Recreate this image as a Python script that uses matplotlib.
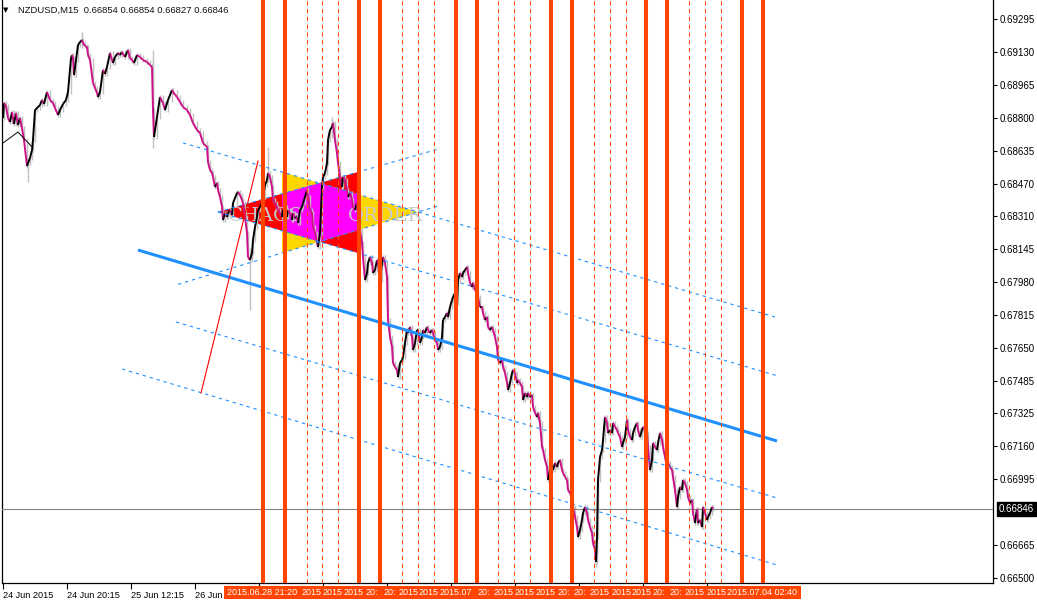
import numpy as np
import matplotlib
matplotlib.use("Agg")
import matplotlib.pyplot as plt
from matplotlib.collections import LineCollection
from matplotlib.patches import Polygon, Rectangle

plt.rcParams['font.family'] = ['Liberation Sans', 'DejaVu Sans']

# NZDUSD M15, one bar per pixel column; bar number and close
bars = [3, 4, 6, 8, 10, 12, 14, 16, 18, 20, 22, 24, 27, 28, 30, 32, 33, 35, 37, 40,
        42, 44, 47, 50, 53, 55, 58, 60, 63, 66, 68, 71, 72, 73, 74, 76, 78, 80, 82, 83,
        85, 87, 88, 90, 93, 95, 97, 98, 100, 103, 105, 107, 110, 113, 115, 118, 120, 122, 125, 128,
        130, 132, 134, 137, 140, 143, 147, 150, 152, 153, 154, 157, 160, 163, 165, 168, 172, 173, 177, 180,
        183, 187, 190, 193, 197, 200,
        203, 207, 208, 210, 212, 213, 215, 217, 218, 220, 222, 223, 225, 227, 228, 230, 232, 233, 237, 238,
        240, 242, 243, 245, 247, 248, 250, 252, 253, 255, 257, 258, 260, 262, 263, 265, 267, 268, 270, 272,
        273, 275, 277, 278, 280, 282, 283, 285, 287, 288, 290, 292, 293, 295, 297, 298, 300, 302, 303, 305,
        307, 308, 310, 312, 313, 315, 317, 318, 320, 322, 323, 325, 327, 328, 330, 332, 333, 335, 337, 338,
        340, 342, 343, 345, 347, 348, 350, 352, 353, 355, 357, 358, 360, 362, 363, 365, 367, 368, 370, 372,
        373, 375, 377, 378, 380, 382, 383, 385, 387, 388,
        390, 392, 393, 395, 397, 398, 400, 402, 403, 405, 407, 408, 410, 412, 413, 415, 417, 418, 420, 422,
        423, 425, 427, 428, 430, 432, 433, 435, 437, 438, 440, 442, 443, 445, 447, 448, 450, 452, 453, 455,
        457, 458, 460, 462, 463, 465, 467, 468, 470, 472, 473, 475, 477, 478, 480, 482, 483, 485, 487, 488,
        490, 492, 493, 495, 497, 498, 500, 502, 503, 505, 507, 508, 510, 512, 513, 515, 517, 518, 520, 522,
        523, 525, 527, 528, 530, 532, 533, 535, 537, 538, 540,
        542, 543, 545, 547, 548, 550, 552, 553, 555, 557, 558, 560, 562, 563, 565, 567, 568, 570, 572, 573,
        575, 577, 578, 580, 582, 583, 585, 587, 588, 590, 592, 593, 595, 596, 597, 598, 600, 602, 603, 605,
        607, 608, 610, 612, 613, 615, 617, 618, 620, 622, 623, 625, 627, 628, 630, 632, 633, 635, 637, 638,
        640, 642, 643, 645, 647, 648, 650, 652, 653, 655, 657, 658, 660, 662, 663, 665, 667, 668, 670, 672,
        673, 675, 677, 678, 680, 682, 683, 685, 687, 688, 690, 692, 693, 695, 697, 698, 700, 702, 703, 705,
        707, 708, 710, 712, 713]
close = [0.68800, 0.68875, 0.68860, 0.68800, 0.68780, 0.68830, 0.68770, 0.68825, 0.68765, 0.68800,
         0.68750, 0.68690, 0.68560, 0.68575, 0.68600, 0.68640, 0.68690, 0.68840, 0.68850, 0.68865,
         0.68890, 0.68870, 0.68930, 0.68890, 0.68875, 0.68850, 0.68815, 0.68840, 0.68870, 0.68890,
         0.68930, 0.69100, 0.69115, 0.69100, 0.69015, 0.69090, 0.69165, 0.69180, 0.69190, 0.69175,
         0.69160, 0.69155, 0.69115, 0.69090, 0.68975, 0.68950, 0.68925, 0.68905, 0.68930, 0.69040,
         0.69020, 0.69055, 0.69125, 0.69075, 0.69105, 0.69125, 0.69115, 0.69130, 0.69105, 0.69140,
         0.69100, 0.69090, 0.69075, 0.69115, 0.69105, 0.69090, 0.69080, 0.69065, 0.69055, 0.68840,
         0.68705, 0.68805, 0.68905, 0.68875, 0.68840, 0.68890, 0.68940, 0.68930, 0.68905, 0.68880,
         0.68855, 0.68840, 0.68815, 0.68775, 0.68740, 0.68725,
         0.68675, 0.68655, 0.68580, 0.68540, 0.68525, 0.68505, 0.68455, 0.68475, 0.68440, 0.68405,
         0.68355, 0.68290, 0.68325, 0.68305, 0.68325, 0.68340, 0.68315, 0.68375, 0.68425, 0.68430,
         0.68415, 0.68390, 0.68375, 0.68305, 0.68225, 0.68105, 0.68090, 0.68125, 0.68190, 0.68255,
         0.68305, 0.68340, 0.68355, 0.68375, 0.68405, 0.68465, 0.68490, 0.68525, 0.68505, 0.68455,
         0.68390, 0.68375, 0.68355, 0.68340, 0.68325, 0.68305, 0.68340, 0.68355, 0.68305, 0.68340,
         0.68325, 0.68290, 0.68325, 0.68300, 0.68305, 0.68275, 0.68340, 0.68355, 0.68375, 0.68405,
         0.68440, 0.68405, 0.68340, 0.68325, 0.68255, 0.68225, 0.68175, 0.68155, 0.68225, 0.68455,
         0.68505, 0.68525, 0.68575, 0.68690, 0.68740, 0.68755, 0.68775, 0.68690, 0.68625, 0.68575,
         0.68505, 0.68455, 0.68505, 0.68490, 0.68440, 0.68405, 0.68425, 0.68390, 0.68355, 0.68340,
         0.68375, 0.68325, 0.68240, 0.68175, 0.68105, 0.67990, 0.68025, 0.68075, 0.68105, 0.68075,
         0.68025, 0.68040, 0.68090, 0.68075, 0.67990, 0.68075, 0.68105, 0.68075, 0.68005, 0.67790,
         0.67705, 0.67655, 0.67575, 0.67555, 0.67540, 0.67505, 0.67575, 0.67590, 0.67605, 0.67675,
         0.67740, 0.67725, 0.67755, 0.67705, 0.67640, 0.67675, 0.67740, 0.67740, 0.67675, 0.67705,
         0.67740, 0.67725, 0.67755, 0.67740, 0.67725, 0.67740, 0.67725, 0.67690, 0.67675, 0.67640,
         0.67655, 0.67705, 0.67790, 0.67805, 0.67825, 0.67805, 0.67855, 0.67890, 0.67905, 0.67925,
         0.67875, 0.67990, 0.68025, 0.68005, 0.68025, 0.68040, 0.68055, 0.68025, 0.67975, 0.67955,
         0.67975, 0.67940, 0.67925, 0.67905, 0.67855, 0.67855, 0.67825, 0.67790, 0.67805, 0.67755,
         0.67740, 0.67755, 0.67740, 0.67705, 0.67655, 0.67590, 0.67575, 0.67590, 0.67555, 0.67525,
         0.67475, 0.67440, 0.67475, 0.67525, 0.67540, 0.67525, 0.67475, 0.67490, 0.67475, 0.67455,
         0.67390, 0.67425, 0.67405, 0.67425, 0.67405, 0.67415, 0.67355, 0.67325, 0.67305, 0.67325,
         0.67275,
         0.67155, 0.67140, 0.67090, 0.67055, 0.66990, 0.67040, 0.67055, 0.67040, 0.67075, 0.67055,
         0.67075, 0.67090, 0.67040, 0.67025, 0.67005, 0.66990, 0.66940, 0.66925, 0.66890, 0.66855,
         0.66805, 0.66755, 0.66705, 0.66740, 0.66790, 0.66825, 0.66855, 0.66825, 0.66790, 0.66755,
         0.66725, 0.66675, 0.66640, 0.66580, 0.66705, 0.66990, 0.67105, 0.67140, 0.67190, 0.67305,
         0.67275, 0.67225, 0.67240, 0.67225, 0.67275, 0.67255, 0.67240, 0.67225, 0.67205, 0.67155,
         0.67175, 0.67205, 0.67290, 0.67240, 0.67205, 0.67190, 0.67225, 0.67255, 0.67275, 0.67240,
         0.67205, 0.67240, 0.67255, 0.67240, 0.67225, 0.67155, 0.67040, 0.67090, 0.67175, 0.67155,
         0.67140, 0.67175, 0.67225, 0.67190, 0.67155, 0.67105, 0.67055, 0.67075, 0.67055, 0.67040,
         0.67005, 0.66940, 0.66855, 0.66905, 0.66955, 0.66940, 0.66990, 0.66975, 0.66940, 0.66905,
         0.66875, 0.66890, 0.66825, 0.66775, 0.66845, 0.66775, 0.66790, 0.66755, 0.66855, 0.66825,
         0.66790, 0.66805, 0.66825, 0.66855, 0.66846]

# long wicks standing out of the close line
wick_bar = [28, 82, 153, 250, 268, 332, 596]
wick_low = [0.68480, 0.69150, 0.68650, 0.67840, 0.68480, 0.68700, 0.66555]
wick_high = [0.68600, 0.69230, 0.69140, 0.68150, 0.68655, 0.68805, 0.66700]

last_price = 0.66846
header = "NZDUSD,M15  0.66854 0.66854 0.66827 0.66846"

# price scale labels
price_ticks = [0.69295, 0.69130, 0.68965, 0.68800, 0.68635, 0.68470, 0.68310, 0.68145, 0.67980,
               0.67815, 0.67650, 0.67485, 0.67325, 0.67160, 0.66995, 0.66665, 0.66500]
# time scale (later labels are hidden under the object labels)
time_ticks = [3, 67, 131, 195, 259, 323, 387, 451, 515, 579, 643, 707]
time_labels = ["24 Jun 2015", "24 Jun 20:15", "25 Jun 12:15", "26 Jun"] + [""] * 8

# vertical lines (bar numbers)
vline_solid = [263, 285, 359, 380, 456, 477, 551, 572, 646, 667, 742, 763]
vline_dashed = [307, 322, 338, 402, 418, 434, 498, 514, 530, 594, 610, 626, 689, 705, 721]
# their labels as they show on the time scale (each one cut by the next)
vline_label_x = [227, 302, 323, 344, 366, 384, 399, 419, 440, 478, 494, 515, 536, 558, 574,
                 590, 612, 632, 653, 670, 685, 707, 727]
vline_label = ["2015.06.28 21:20", "2015", "2015", "2015", "20:", "20:", "2015", "2015", "2015.07",
               "20:", "2015", "2015", "2015", "20:", "20:", "2015", "2015", "2015", "20:", "20:",
               "2015", "2015", "2015.07.04 02:40"]

# regression channel: thick middle line and parallel bands (bar, price)
mid_line = [(138, 0.68140), (777, 0.67185)]
band_lines = [[(176, 0.67780), (777, 0.66900)],
              [(122, 0.67545), (777, 0.66565)]]

# chaos / order triangles (bar, price)
tri_order = [(282, 0.68530), (282, 0.68125), (418, 0.68330)]
tri_chaos = [(218, 0.68330), (358, 0.68530), (358, 0.68125)]
# extensions of the triangle edges: (edge start, edge end, extend from, extend to)
edge_ext = [(tri_order[0], tri_order[2], 183, 775),
            (tri_order[1], tri_order[2], 178, 440),
            (tri_chaos[0], tri_chaos[1], 218, 440),
            (tri_chaos[0], tri_chaos[2], 218, 777)]

red_line = [(201, 0.67425), (258, 0.68585)]
zigzag = [(3, 0.68675), (18, 0.68730), (33, 0.68650)]

ORANGE = "#FF4500"
BLUE = "#1E90FF"
W, H = 1037, 601
Y_TOP = 0.6939
Y_BOT = 0.6939 - 583 * 0.00005


def line_y(p, q, x):
    return p[1] + (q[1] - p[1]) * (x - p[0]) / (q[0] - p[0])


def cross(p1, p2, q1, q2):
    a = (p2[1] - p1[1]) / (p2[0] - p1[0])
    b = (q2[1] - q1[1]) / (q2[0] - q1[0])
    x = (q1[1] - p1[1] + a * p1[0] - b * q1[0]) / (a - b)
    return (x, p1[1] + a * (x - p1[0]))


fig = plt.figure(figsize=(W / 100, H / 100), dpi=100)
ax = fig.add_axes([2 / W, 18 / H, 991 / W, 583 / H])
ax.set_xlim(2, 993)
ax.set_ylim(Y_BOT, Y_TOP)

# triangles, overlap in magenta
ax.add_patch(Polygon(tri_chaos, closed=True, fc="#FF0000", ec="none", zorder=1))
ax.add_patch(Polygon(tri_order, closed=True, fc="#FFD700", ec="none", zorder=1))
overlap = [(tri_order[0][0], line_y(tri_chaos[0], tri_chaos[1], tri_order[0][0])),
           cross(tri_order[0], tri_order[2], tri_chaos[0], tri_chaos[1]),
           (tri_chaos[1][0], line_y(tri_order[0], tri_order[2], tri_chaos[1][0])),
           (tri_chaos[2][0], line_y(tri_order[1], tri_order[2], tri_chaos[2][0])),
           cross(tri_order[1], tri_order[2], tri_chaos[0], tri_chaos[2]),
           (tri_order[1][0], line_y(tri_chaos[0], tri_chaos[2], tri_order[1][0]))]
ax.add_patch(Polygon(overlap, closed=True, fc="#FF00FF", ec="none", zorder=1.1))

ax.text(228, 0.68310, "CHAOS", family="DejaVu Serif", fontsize=14, color="#C8C8C8",
        va="center", ha="left", zorder=2)
ax.text(348, 0.68310, "ORDER", family="DejaVu Serif", fontsize=14, color="#C8C8C8",
        va="center", ha="left", zorder=2)

# price
x = np.array(bars, dtype=float)
c = np.array(close)
lo = np.minimum(c[:-1], c[1:]) - 0.0001
hi = np.maximum(c[:-1], c[1:]) + 0.0001
ax.vlines(x[1:], lo, hi, color="#C0C0C0", lw=1, zorder=2.5)
ax.vlines(wick_bar, wick_low, wick_high, color="#C0C0C0", lw=1, zorder=2.5)
segs = np.stack([np.column_stack([x[:-1], c[:-1]]), np.column_stack([x[1:], c[1:]])], axis=1)
cols = ["black" if b >= a else "#CC1188" for a, b in zip(c[:-1], c[1:])]
ax.add_collection(LineCollection(segs, colors=cols, linewidths=1.4, zorder=3))

ax.axhline(last_price, color="#808080", lw=0.8, zorder=2.6)

# blue objects
(x0, y0), (x1, y1) = mid_line
ax.plot([x0, x1], [y0, y1], color=BLUE, lw=2.2, zorder=4, solid_capstyle="butt")
for (p, q) in band_lines:
    ax.plot([p[0], q[0]], [p[1], q[1]], color=BLUE, lw=0.8, dashes=(3, 3.5), zorder=4)
for p, q, xa, xb in edge_ext:
    ax.plot([xa, xb], [line_y(p, q, xa), line_y(p, q, xb)], color=BLUE, lw=0.8,
            dashes=(3, 3.5), zorder=4)
ax.plot([p[0] for p in red_line], [p[1] for p in red_line], color="red", lw=0.8, zorder=4)
ax.plot([p[0] for p in zigzag], [p[1] for p in zigzag], color="black", lw=0.7, zorder=4)

# vertical lines
for v in vline_solid:
    ax.axvline(v, color=ORANGE, lw=2.9, zorder=5)
for v in vline_dashed:
    ax.axvline(v, color=ORANGE, lw=0.75, dashes=(4, 3.5), zorder=5)

# axes frame
ax.spines["top"].set_visible(False)
for s in ["left", "right", "bottom"]:
    ax.spines[s].set_color("black")
    ax.spines[s].set_linewidth(0.9)
ax.yaxis.tick_right()
ax.set_yticks(price_ticks)
ax.set_yticklabels([f"{v:.5f}" for v in price_ticks])
ax.tick_params(axis="y", direction="out", length=3, width=0.8, pad=1.5, labelsize=7)
ax.set_xticks(time_ticks)
ax.set_xticklabels(time_labels, ha="left")
ax.tick_params(axis="x", direction="out", length=4, width=0.8, pad=2, labelsize=6.6)

ax.annotate(f"{last_price:.5f}", xy=(1, last_price), xycoords=("axes fraction", "data"),
            xytext=(6, 0), textcoords="offset pixels", va="center", ha="left", fontsize=7,
            color="white", bbox=dict(boxstyle="square,pad=0.2", fc="black", ec="black"),
            annotation_clip=False)

# header
fig.text(3 / W, 1 - 10 / H, "\u25BC", fontsize=5, va="center", ha="left",
         family=["DejaVu Sans"])
fig.text(18 / W, 1 - 10 / H, header, fontsize=6.8, va="center", ha="left", color="#101010")

# vertical line labels on the time scale
fig.add_artist(Rectangle((224 / W, 1 - 599 / H), 577 / W, 13 / H, transform=fig.transFigure,
                         fc=ORANGE, ec="none", zorder=6))
for lx, lt in zip(vline_label_x, vline_label):
    fig.text(lx / W, 1 - 592.5 / H, lt, fontsize=6.5, color="white", va="center", ha="left",
             zorder=7)

plt.savefig("out.png", dpi=100)
plt.close()
